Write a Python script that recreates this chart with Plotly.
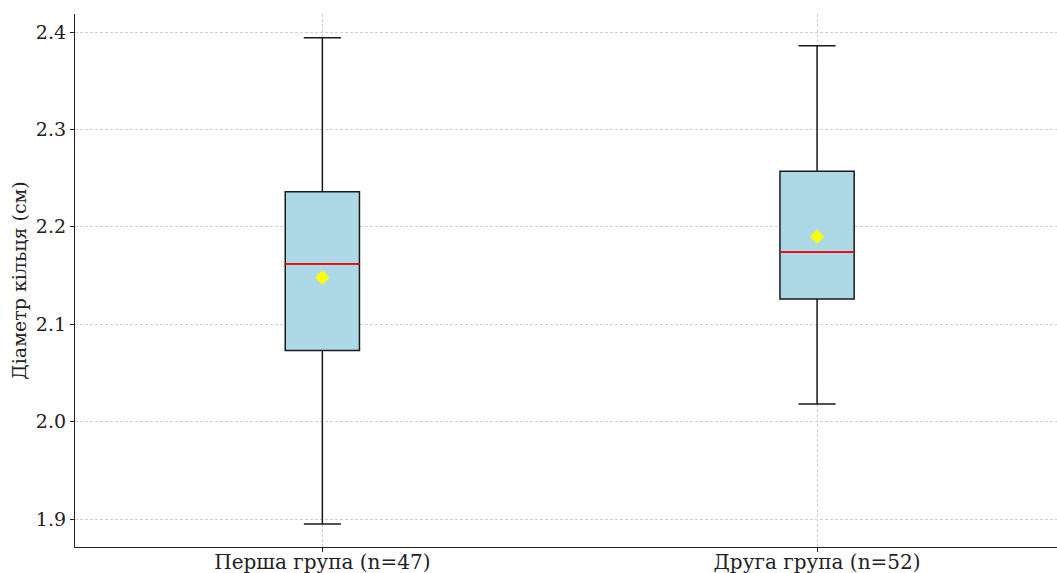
import plotly.graph_objects as go

# Summary statistics for ring diameter (cm) per group
groups = ["Перша група (n=47)", "Друга група (n=52)"]
positions = [1, 2]
lower_whisker = [1.895, 2.018]
q1 = [2.073, 2.126]
median = [2.162, 2.174]
q3 = [2.236, 2.257]
upper_whisker = [2.394, 2.386]
mean = [2.148, 2.190]

box_width = 0.15
font_family = "DejaVu Serif"
grid_style = dict(showgrid=True, gridcolor="#d0d0d0", griddash="3px,2px", gridwidth=1)
axis_style = dict(showline=True, linecolor="#222", linewidth=1.3,
                  ticks="outside", ticklen=4, tickcolor="#222", zeroline=False)

fig = go.Figure()

for i, pos in enumerate(positions):
    fig.add_trace(go.Box(
        x=[pos],
        q1=[q1[i]], median=[median[i]], q3=[q3[i]],
        lowerfence=[lower_whisker[i]], upperfence=[upper_whisker[i]],
        width=box_width, whiskerwidth=0.5,
        fillcolor="#add8e6",
        line=dict(color="#1a1a1a", width=1.5),
        showlegend=False, hoverinfo="skip",
    ))
    # red median line across the box
    fig.add_trace(go.Scatter(
        x=[pos - box_width / 2, pos + box_width / 2],
        y=[median[i], median[i]],
        mode="lines", line=dict(color="#ff0000", width=1.8),
        showlegend=False, hoverinfo="skip",
    ))

# group means
fig.add_trace(go.Scatter(
    x=positions, y=mean, mode="markers",
    marker=dict(symbol="diamond", color="#ffff00", size=11, line=dict(width=0)),
    showlegend=False, hoverinfo="skip",
))

fig.update_layout(
    width=1057, height=573,
    margin=dict(l=75, r=0, t=14, b=26),
    plot_bgcolor="white", paper_bgcolor="white",
    font=dict(family=font_family, size=19, color="#222"),
)
fig.update_xaxes(
    range=[0.5, 2.485], automargin=False,
    tickmode="array", tickvals=positions, ticktext=groups,
    tickfont=dict(size=20), ticklabelstandoff=-7,
    **grid_style, **axis_style,
)
fig.update_yaxes(
    range=[1.8713, 2.4185], automargin=False,
    tickmode="array", tickvals=[1.9, 2.0, 2.1, 2.2, 2.3, 2.4],
    ticktext=["1.9", "2.0", "2.1", "2.2", "2.3", "2.4"],
    tickfont=dict(size=19),
    title=dict(text="Діаметр кільця (см)", font=dict(size=19), standoff=4),
    **grid_style, **axis_style,
)

fig.write_html("out.html")
